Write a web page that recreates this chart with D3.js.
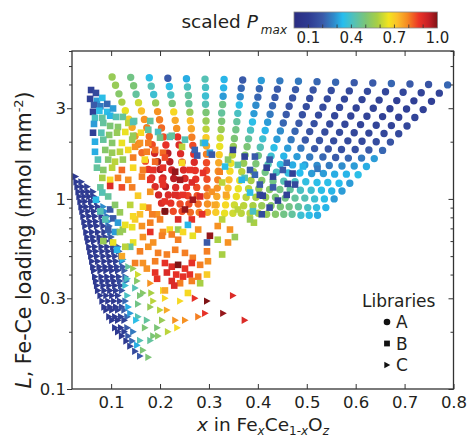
<!DOCTYPE html>
<html>
<head>
<meta charset="utf-8">
<script src="https://cdn.jsdelivr.net/npm/d3@7"></script>
<style>
  html, body { margin: 0; padding: 0; background: #fff; }
  svg { display: block; font-family: "DejaVu Sans", Verdana, sans-serif; }
</style>
</head>
<body>
<svg id="chart" width="470" height="439"></svg>
<script>
// colour map for scaled Pmax
const cmapStops = [0, .1, .2, .28, .34, .42, .5, .58, .66, .72, .79, .87, .94, 1];
const cmapColors = ["#2b2d82","#2e3a91","#3a5aa9","#2f8ccc","#26bdee","#55c1b4","#7cc576",
                    "#a8cf44","#f3e41f","#fbbf2b","#f58a22","#ec3427","#c41f26","#7e1315"];

// axis ticks
const xTicks = [0.1, 0.2, 0.3, 0.4, 0.5, 0.6, 0.7, 0.8];
const yLabelTicks = [0.1, 0.3, 1, 3];
const yMinorTicks = [0.2, 0.4, 0.5, 0.6, 0.7, 0.8, 0.9, 2, 4, 5, 6];
const cbarLabels = [0.1, 0.4, 0.7, 1.0];
const cbarMinor = [0.1, 0.2, 0.3, 0.4, 0.5, 0.6, 0.7, 0.8, 0.9];
const libraries = ["A", "B", "C"];

// Library A (circles): one line per row of the grid
const aX = [
  [.102,.140,.178,.216,.254,.292,.331,.369,.407,.445,.483,.521,.559,.597,.635,.673,.711,.749,.788],
  [.109,.146,.182,.219,.256,.293,.330,.366,.403,.440,.477,.513,.550,.587,.624,.661,.697,.734,.771],
  [.116,.151,.187,.222,.258,.293,.329,.364,.400,.435,.471,.506,.542,.577,.613,.648,.684,.719,.755],
  [.122,.156,.191,.225,.259,.293,.328,.362,.396,.430,.464,.499,.533,.567,.601,.636,.670,.704,.738],
  [.129,.162,.195,.228,.261,.294,.326,.359,.392,.425,.458,.491,.524,.557,.590,.623,.655,.688,.721],
  [.136,.168,.199,.231,.262,.294,.326,.357,.389,.420,.452,.484,.515,.547,.578,.610,.642,.673,.705],
  [.143,.173,.203,.234,.264,.294,.325,.355,.385,.415,.446,.476,.506,.537,.567,.597,.627,.658,.688],
  [.149,.178,.207,.236,.265,.294,.323,.352,.381,.410,.439,.468,.497,.526,.555,.584,.613,.642,.671],
  [.156,.184,.212,.239,.267,.295,.322,.350,.378,.405,.433,.461,.488,.516,.544,.571,.599,.627,.655],
  [.163,.189,.216,.242,.269,.295,.321,.348,.374,.401,.427,.453,.480,.506,.533,.559,.585,.612,.638],
  [.170,.195,.220,.245,.270,.295,.320,.345,.371,.396,.421,.446,.471,.496,.521,.546,.572,.597,.622],
  [.176,.200,.224,.248,.272,.295,.319,.343,.367,.391,.415,.438,.462,.486,.510,.534,.557,.581,.605],
  [.183,.206,.228,.251,.273,.296,.318,.341,.363,.386,.408,.431,.453,.476,.498,.521,.543,.566,.588],
  [.190,.211,.232,.254,.275,.296,.317,.339,.360,.381,.402,.424,.445,.466,.487,.509,.530,.551,.572],
  [.197,.217,.237,.257,.276,.296,.316,.336,.356,.376,.396,.416,.436,.456,.476,.496,.516,.536,.556],
  [.203,.222,.241,.259,.278,.297,.315,.334,.352,.371,.390,.408,.427,.446,.464,.483,.502,.520,.539],
  [.210,.227,.245,.262,.280,.297,.314,.332,.349,.366,.384,.401,.418,.436,.453,.470,.488,.505,.522]
];
const aL = [
  [4.38,4.36,4.34,4.31,4.29,4.27,4.25,4.22,4.20,4.18,4.16,4.14,4.11,4.09,4.07,4.05,4.02,4.00,3.98],
  [3.96,3.94,3.92,3.90,3.88,3.86,3.84,3.82,3.80,3.78,3.76,3.74,3.72,3.70,3.68,3.66,3.64,3.62,3.60],
  [3.57,3.55,3.54,3.52,3.50,3.48,3.47,3.45,3.43,3.42,3.40,3.38,3.36,3.35,3.33,3.31,3.29,3.28,3.26],
  [3.23,3.21,3.20,3.18,3.17,3.15,3.14,3.12,3.11,3.09,3.07,3.06,3.04,3.03,3.01,3.00,2.98,2.97,2.95],
  [2.91,2.90,2.88,2.87,2.86,2.85,2.83,2.82,2.81,2.79,2.78,2.77,2.76,2.74,2.73,2.72,2.71,2.69,2.68],
  [2.63,2.62,2.61,2.59,2.58,2.57,2.56,2.55,2.54,2.53,2.51,2.50,2.49,2.48,2.47,2.46,2.44,2.43,2.42],
  [2.38,2.37,2.36,2.35,2.34,2.33,2.32,2.31,2.30,2.29,2.28,2.27,2.26,2.25,2.24,2.23,2.22,2.21,2.20],
  [2.14,2.13,2.12,2.12,2.11,2.10,2.09,2.08,2.07,2.07,2.06,2.05,2.04,2.03,2.02,2.02,2.01,2.00,1.99],
  [1.94,1.93,1.92,1.92,1.91,1.90,1.89,1.89,1.88,1.87,1.86,1.85,1.85,1.84,1.83,1.82,1.82,1.81,1.80],
  [1.75,1.74,1.74,1.73,1.72,1.72,1.71,1.70,1.70,1.69,1.68,1.68,1.67,1.66,1.66,1.65,1.64,1.64,1.63],
  [1.58,1.57,1.57,1.56,1.56,1.55,1.55,1.54,1.54,1.53,1.52,1.52,1.51,1.51,1.50,1.50,1.49,1.49,1.48],
  [1.43,1.43,1.42,1.42,1.41,1.41,1.40,1.40,1.39,1.39,1.38,1.38,1.37,1.37,1.36,1.36,1.35,1.35,1.34],
  [1.29,1.29,1.28,1.28,1.27,1.27,1.26,1.26,1.25,1.25,1.25,1.24,1.24,1.23,1.23,1.22,1.22,1.21,1.21],
  [1.16,1.16,1.15,1.15,1.15,1.14,1.14,1.14,1.13,1.13,1.13,1.12,1.12,1.12,1.11,1.11,1.11,1.10,1.10],
  [1.05,1.05,1.04,1.04,1.04,1.04,1.03,1.03,1.03,1.02,1.02,1.02,1.02,1.01,1.01,1.01,1.00,1.00,1.00],
  [.95,.95,.94,.94,.94,.94,.93,.93,.93,.92,.92,.92,.92,.91,.91,.91,.90,.90,.90],
  [.86,.86,.86,.85,.85,.85,.85,.84,.84,.84,.84,.84,.83,.83,.83,.83,.82,.82,.82]
];
const aP = [
  [.55,.48,.35,.2,.32,.42,.33,.2,.3,.25,.25,.22,.22,.2,.2,.22,.2,.18,.22],
  [.55,.5,.42,.35,.4,.4,.33,.22,.22,.2,.2,.18,.16,.15,.15,.14,.14,.13,.13],
  [.52,.45,.38,.4,.45,.38,.3,.28,.22,.2,.18,.16,.15,.14,.13,.13,.12,.12,.12],
  [.58,.62,.55,.5,.45,.42,.48,.35,.28,.22,.18,.16,.15,.14,.13,.13,.12,.12,.12],
  [.65,.72,.78,.68,.55,.5,.45,.4,.3,.25,.2,.17,.15,.14,.13,.13,.12,.12,.13],
  [.7,.78,.8,.75,.72,.55,.5,.45,.35,.3,.22,.2,.17,.15,.14,.13,.13,.13,.14],
  [.75,.8,.82,.78,.75,.6,.55,.48,.4,.33,.28,.22,.18,.16,.15,.14,.14,.14,.15],
  [.78,.82,.85,.88,.8,.7,.62,.5,.45,.38,.3,.25,.2,.18,.16,.15,.15,.16,.18],
  [.8,.85,.88,.9,.85,.75,.65,.55,.5,.42,.35,.3,.25,.2,.18,.17,.17,.2,.22],
  [.82,.92,.95,.9,.88,.8,.7,.6,.52,.48,.38,.33,.3,.25,.22,.2,.22,.25,.3],
  [.85,.98,.95,.92,.9,.85,.75,.65,.55,.5,.42,.36,.32,.3,.28,.25,.28,.3,.32],
  [.88,.95,.92,.9,.88,.85,.78,.68,.6,.55,.48,.4,.36,.34,.3,.3,.32,.33,.35],
  [.9,.92,.95,.9,.88,.85,.8,.72,.65,.58,.52,.48,.42,.4,.36,.35,.35,.34,.3],
  [.9,.95,.9,.88,.85,.82,.78,.72,.65,.6,.55,.52,.48,.45,.4,.38,.35,.33,.3],
  [.92,.9,.88,.86,.84,.8,.75,.7,.65,.6,.58,.55,.5,.48,.45,.42,.38,.35,.3],
  [.9,.88,.85,.85,.82,.78,.72,.68,.62,.6,.58,.55,.52,.5,.48,.45,.4,.36,.33],
  [.88,.85,.85,.82,.8,.75,.7,.65,.62,.6,.6,.58,.55,.52,.48,.45,.38,.35,.32]
];

// Library B (squares): [x, L, scaled Pmax]
const libB = [
  [.059,3.74,.12],[.069,3.61,.15],[.057,3.36,.12],[.071,3.28,.3],[.082,3.40,.35],[.065,3.12,.2],[.078,3.07,.25],[.092,3.16,.22],
  [.063,2.87,.12],[.076,2.91,.35],[.092,2.87,.35],[.104,2.99,.3],[.067,2.67,.4],[.082,2.67,.45],[.098,2.74,.33],[.110,2.70,.42],[.124,2.70,.45],
  [.065,2.48,.3],[.084,2.51,.45],[.098,2.42,.5],[.114,2.39,.52],[.135,2.51,.6],[.147,2.57,.45],[.180,2.57,.45],[.145,2.54,.42],
  [.063,2.23,.12],[.080,2.23,.42],[.096,2.17,.52],[.112,2.23,.55],[.129,2.25,.65],[.145,2.15,.55],[.161,2.23,.68],[.176,2.31,.45],[.196,2.25,.4],[.220,2.12,.42],
  [.067,2.00,.32],[.084,2.05,.45],[.102,1.97,.52],[.122,1.97,.65],[.143,2.05,.55],[.159,1.97,.78],[.176,1.97,.8],[.200,2.10,.48],[.224,2.15,.45],[.251,2.05,.42],[.288,1.97,.45],[.245,1.88,.6],[.292,1.97,.33],
  [.067,1.77,.32],[.088,1.81,.52],[.102,1.75,.55],[.118,1.77,.6],[.135,1.81,.68],[.149,1.88,.78],[.173,1.77,.8],[.190,1.81,.82],[.206,1.75,.82],[.271,1.81,.22],[.302,1.75,.3],[.276,1.69,.2],[.306,1.71,.2],[.349,1.81,.12],
  [.073,1.61,.42],[.094,1.61,.52],[.108,1.57,.6],[.124,1.61,.55],[.145,1.65,.8],[.169,1.61,.68],[.190,1.57,.82],[.210,1.65,.85],[.339,1.61,.52],[.373,1.67,.13],[.394,1.67,.2],[.424,1.61,.2],[.459,1.55,.22],
  [.071,1.46,.45],[.084,1.42,.52],[.102,1.46,.6],[.122,1.42,.82],[.145,1.46,.68],[.165,1.42,.8],[.186,1.42,.88],[.206,1.46,.88],[.231,1.39,.98],[.245,1.55,.68],[.261,1.42,.88],[.288,1.37,.88],[.322,1.39,.8],[.359,1.51,.45],[.333,1.48,.35],[.418,1.46,.12],[.451,1.42,.2],[.471,1.36,.12],[.492,1.48,.33],[.522,1.44,.25],[.384,1.42,.2],
  [.082,1.29,.58],[.098,1.26,.68],[.114,1.29,.8],[.135,1.26,.78],[.163,1.31,.8],[.180,1.26,.88],[.204,1.26,.88],[.241,1.26,.97],[.265,1.22,.9],[.327,1.22,.6],[.373,1.29,.42],[.394,1.34,.22],[.431,1.31,.12],[.367,1.26,.33],
  [.078,1.15,.45],[.098,1.17,.9],[.122,1.15,.85],[.143,1.15,.8],[.206,1.19,.88],[.404,1.19,.2],[.461,1.20,.12],[.476,1.19,.15],[.431,1.15,.2],
  [.082,1.08,.42],[.094,1.03,.45],[.155,1.04,.7],[.180,1.09,.78],[.231,1.05,.9],[.247,1.05,.88],[.267,.99,.97],[.282,1.03,.9],[.306,1.09,.78],[.335,1.05,.75],[.384,1.08,.35],[.404,1.05,.15],[.410,1.04,.12],[.459,1.05,.12],[.441,.98,.12],[.069,.99,.35],
  [.078,.86,.42],[.088,.78,.42],[.098,.88,.2],[.104,.79,.2],[.114,.75,.3],[.108,.93,.52],[.118,.85,.55],[.194,.83,.78],[.210,.97,.88],[.237,.78,.9],[.251,.88,.98],[.265,.78,.88],[.286,.83,.88],[.312,.93,.75],[.327,.78,.6],[.359,.88,.6],[.424,.90,.15],[.408,.83,.15],[.390,.86,.4],[.392,.75,.58],[.159,.83,.72],[.176,.90,.8],[.139,.93,.6],[.149,.78,.7],[.210,.86,1.0],[.165,.91,.68],[.184,.83,.8],[.145,.81,.68],
  [.108,.67,.3],[.124,.69,.55],[.084,.60,.55],[.094,.69,.2],[.129,.73,.65],[.118,.67,.55],[.257,.73,.33],[.278,.69,.78],[.206,.67,.78],[.220,.69,.68],[.237,.69,.55],[.318,.72,.78],[.343,.69,.78],[.384,.78,.55],[.163,.72,.78],[.180,.75,.8],[.200,.78,.8],[.143,.71,.65],
  [.145,.59,.65],[.165,.63,.78],[.180,.67,.88],[.186,.59,.78],[.204,.64,.8],[.224,.65,.8],[.237,.61,.8],[.247,.67,.68],[.267,.64,.65],[.302,.64,.98],[.296,.59,.2],[.318,.61,.58],[.339,.59,.78],[.353,.63,.55],[.104,.59,.65],
  [.139,.56,.45],[.159,.53,.8],[.176,.56,.78],[.196,.52,.8],[.214,.51,.8],[.231,.54,.8],[.251,.52,.8],[.267,.49,.8],[.296,.53,.8],[.327,.51,.58],[.112,.54,.33],[.129,.56,.6],[.122,.50,.75],
  [.149,.46,.8],[.165,.46,.78],[.190,.47,.8],[.210,.46,.88],[.224,.44,.9],[.237,.45,1.0],[.251,.43,.88],[.265,.46,.88],[.282,.45,.8],[.298,.47,.78],
  [.173,.43,.78],[.190,.41,.88],[.214,.41,.9],[.233,.40,.88],[.247,.39,.88],[.261,.40,.88],[.278,.39,.8],[.296,.40,.7],
  [.194,.38,.88],[.224,.37,.9],[.241,.36,.8],[.265,.37,.8],[.282,.36,.58],[.257,.32,.68],[.229,.35,.9],[.210,.33,.75]
];

// Library C (triangles): [x, L, scaled Pmax]
const libC = [
  [.027,1.31,.1],
  [.029,1.23,.1],[.039,1.23,.12],
  [.031,1.16,.1],[.041,1.16,.1],[.051,1.16,.12],
  [.033,1.09,.1],[.043,1.09,.1],[.053,1.09,.1],[.063,1.09,.13],
  [.035,1.03,.1],[.045,1.03,.1],[.055,1.03,.1],[.065,1.03,.12],
  [.037,.97,.1],[.047,.97,.1],[.059,.97,.1],[.071,.97,.15],
  [.039,.91,.1],[.049,.91,.1],[.061,.91,.1],[.073,.91,.12],[.084,.91,.28],
  [.041,.86,.1],[.053,.86,.1],[.065,.86,.1],[.078,.86,.15],[.088,.86,.28],
  [.043,.81,.1],[.055,.81,.1],[.067,.81,.1],[.080,.81,.12],[.092,.81,.25],
  [.045,.76,.1],[.057,.76,.1],[.069,.76,.1],[.082,.76,.15],[.094,.76,.3],
  [.047,.72,.1],[.059,.72,.1],[.071,.72,.1],[.084,.72,.12],[.096,.72,.22],
  [.049,.67,.1],[.061,.67,.1],[.073,.67,.1],[.086,.67,.12],[.098,.67,.25],
  [.051,.63,.1],[.063,.63,.1],[.076,.63,.1],[.088,.63,.12],[.100,.63,.2],
  [.053,.60,.1],[.065,.60,.1],[.078,.60,.1],[.090,.60,.1],[.102,.60,.15],
  [.055,.56,.1],[.067,.56,.1],[.080,.56,.1],[.092,.56,.1],[.104,.56,.12],[.114,.56,.2],
  [.057,.53,.1],[.069,.53,.1],[.082,.53,.1],[.094,.53,.1],[.106,.53,.12],[.116,.53,.2],
  [.059,.50,.1],[.071,.50,.1],[.084,.50,.1],[.096,.50,.1],[.108,.50,.12],[.120,.50,.22],
  [.061,.47,.1],[.073,.47,.1],[.086,.47,.1],[.098,.47,.1],[.110,.47,.12],[.122,.47,.25],
  [.063,.44,.1],[.076,.44,.1],[.088,.44,.1],[.100,.44,.1],[.112,.44,.12],[.124,.44,.2],
  [.065,.42,.1],[.078,.42,.1],[.090,.42,.1],[.102,.42,.1],[.114,.42,.12],[.127,.42,.2],
  [.067,.39,.1],[.080,.39,.1],[.092,.39,.1],[.104,.39,.1],[.116,.39,.12],[.129,.39,.22],
  [.069,.37,.1],[.082,.37,.1],[.094,.37,.1],[.106,.37,.1],[.118,.37,.15],[.131,.37,.25],
  [.071,.35,.1],[.084,.35,.1],[.096,.35,.1],[.108,.35,.1],[.120,.35,.15],
  [.073,.33,.1],[.086,.33,.1],[.098,.33,.1],[.110,.33,.12],[.122,.33,.18],
  [.078,.31,.1],[.090,.31,.1],[.102,.31,.1],[.114,.31,.12],
  [.082,.29,.1],[.094,.29,.1],[.106,.29,.1],[.118,.29,.12],[.129,.29,.22],
  [.086,.27,.1],[.098,.27,.1],[.110,.27,.1],[.122,.27,.15],
  [.090,.26,.1],[.102,.26,.1],[.114,.26,.12],[.127,.26,.2],
  [.096,.24,.1],[.108,.24,.1],[.120,.24,.12],[.133,.24,.22],
  [.102,.23,.1],[.114,.23,.1],[.127,.23,.12],
  [.108,.21,.1],[.120,.21,.1],[.133,.21,.2],
  [.114,.20,.1],[.127,.20,.12],
  [.122,.19,.1],[.135,.19,.2],
  [.131,.179,.1],[.143,.179,.22],
  [.139,.168,.12],[.149,.158,.15],[.159,.149,.2],
  [.124,.48,.33],[.135,.44,.45],[.145,.43,.55],[.155,.40,.62],[.180,.36,.78],[.206,.33,.68],[.133,.38,.4],[.153,.37,.52],
  [.129,.35,.38],[.149,.34,.42],[.165,.32,.52],[.186,.29,.6],[.210,.30,.68],[.241,.29,.68],[.271,.30,.88],[.296,.29,1.0],[.349,.31,.9],
  [.133,.31,.4],[.159,.31,.5],[.182,.32,.58],[.135,.27,.32],[.155,.28,.48],[.180,.27,.55],[.200,.26,.6],[.214,.26,.75],
  [.231,.23,.78],[.251,.23,.78],[.278,.24,.8],[.292,.25,.88],[.329,.25,.98],[.373,.23,.9],[.139,.25,.3],[.155,.24,.42],
  [.173,.23,.45],[.194,.21,.5],[.216,.20,.6],[.235,.21,.68],[.151,.23,.35],[.169,.21,.5],[.186,.19,.5],[.145,.20,.25],
  [.159,.18,.42],[.153,.17,.32],[.165,.16,.5],[.176,.147,.5],[.180,.18,.45],[.196,.19,.52],[.204,.23,.55]
];

const svg = d3.select("#chart");
const ink = "#231f20";

const x = d3.scaleLinear().domain([0.02, 0.8]).range([72, 453.5]);
const y = d3.scaleLog().domain([0.1, 6]).range([389, 51]);
const color = d3.scaleLinear().domain(cmapStops).range(cmapColors).clamp(true);

const ptsA = aX.flatMap((row, r) => row.map((v, c) => ({x: v, L: aL[r][c], p: aP[r][c]})));
const toPts = arr => arr.map(([xv, L, p]) => ({x: xv, L: L, p: p}));

// marker shapes
const triPath = "M-3,-3.7L3.7,0L-3,3.7Z";
const sqPath = "M-3.3,-3.3H3.3V3.3H-3.3Z";
const circPath = d3.symbol(d3.symbolCircle, Math.PI * 3.7 * 3.7)();

function drawMarks(data, shape) {
  svg.append("g")
    .selectAll("path")
    .data(data)
    .join("path")
    .attr("d", shape)
    .attr("transform", d => `translate(${x(d.x)},${y(d.L)})`)
    .attr("fill", d => color(d.p));
}
drawMarks(toPts(libC), triPath);
drawMarks(ptsA, circPath);
drawMarks(toPts(libB), sqPath);

// axes
function styleAxis(g) {
  g.attr("font-family", null).attr("font-size", null);
  g.select(".domain").remove();
  g.selectAll("line").attr("stroke", "#333");
  g.selectAll("text").attr("fill", ink).attr("font-size", 16.5);
}
svg.append("g").attr("transform", "translate(0,389)")
  .call(d3.axisBottom(x).tickValues(xTicks).tickSize(-5).tickPadding(7).tickFormat(d3.format(".1f")))
  .call(styleAxis);
svg.append("g").attr("transform", "translate(0,51)")
  .call(d3.axisTop(x).tickValues(xTicks).tickSize(-5).tickFormat(""))
  .call(styleAxis);
svg.append("g").attr("transform", "translate(72,0)")
  .call(d3.axisLeft(y).tickValues(yLabelTicks).tickSize(5).tickPadding(1).tickFormat(d => d))
  .call(styleAxis);
svg.append("g").attr("transform", "translate(72,0)")
  .call(d3.axisLeft(y).tickValues(yMinorTicks).tickSize(3).tickFormat(""))
  .call(styleAxis);
svg.append("g").attr("transform", "translate(453.5,0)")
  .call(d3.axisRight(y).tickValues(yLabelTicks).tickSize(-5).tickFormat(""))
  .call(styleAxis);
svg.append("g").attr("transform", "translate(453.5,0)")
  .call(d3.axisRight(y).tickValues(yMinorTicks).tickSize(-3).tickFormat(""))
  .call(styleAxis);

// frame
svg.append("rect")
  .attr("x", 72).attr("y", 51).attr("width", 381.5).attr("height", 338)
  .attr("fill", "none").attr("stroke", "#333").attr("stroke-width", 1.3);

// axis titles
const xl = svg.append("text").attr("x", 263).attr("y", 431)
  .attr("text-anchor", "middle").attr("font-size", 18.5).attr("fill", ink);
xl.append("tspan").attr("font-style", "italic").text("x");
xl.append("tspan").text(" in Fe");
xl.append("tspan").attr("font-size", 12).attr("dy", 4).attr("font-style", "italic").text("x");
xl.append("tspan").attr("dy", -4).text("Ce");
xl.append("tspan").attr("font-size", 12).attr("dy", 4).text("1-");
xl.append("tspan").attr("font-size", 12).attr("font-style", "italic").text("x");
xl.append("tspan").attr("dy", -4).text("O");
xl.append("tspan").attr("font-size", 12).attr("dy", 4).attr("font-style", "italic").text("z");

const yl = svg.append("text").attr("transform", "translate(31,240) rotate(-90)")
  .attr("text-anchor", "middle").attr("font-size", 20.5).attr("fill", ink);
yl.append("tspan").attr("font-style", "italic").text("L");
yl.append("tspan").text(", Fe-Ce loading (nmol mm");
yl.append("tspan").attr("font-size", 13).attr("dy", -8).text("-2");
yl.append("tspan").attr("dy", 8).text(")");

// colour bar
const cbx = d3.scaleLinear().domain([0, 1]).range([294, 437.5]);
const grad = svg.append("defs").append("linearGradient").attr("id", "cmap");
grad.selectAll("stop").data(cmapStops).join("stop")
  .attr("offset", d => d)
  .attr("stop-color", (d, i) => cmapColors[i]);
svg.append("rect")
  .attr("x", cbx(0)).attr("y", 12).attr("width", cbx(1) - cbx(0)).attr("height", 16)
  .attr("fill", "url(#cmap)").attr("stroke", "#888").attr("stroke-width", 0.8);
svg.append("g").selectAll("line").data(cbarMinor).join("line")
  .attr("x1", d => cbx(d)).attr("x2", d => cbx(d))
  .attr("y1", 28).attr("y2", 24.5)
  .attr("stroke", "#333").attr("stroke-width", 0.8);
svg.append("g").selectAll("text").data(cbarLabels).join("text")
  .attr("x", d => cbx(d)).attr("y", 43)
  .attr("text-anchor", "middle").attr("font-size", 15).attr("fill", ink)
  .text(d3.format(".1f"));

const title = svg.append("text").attr("x", 287).attr("y", 28)
  .attr("text-anchor", "end").attr("font-size", 18.5).attr("fill", ink);
title.append("tspan").text("scaled ");
title.append("tspan").attr("font-style", "italic").text("P");
title.append("tspan").attr("font-style", "italic").attr("font-size", 12)
  .attr("dx", 3).attr("dy", 6).text("max");

// legend
svg.append("text").attr("x", 362).attr("y", 307)
  .attr("font-size", 17).attr("fill", ink).text("Libraries");
const legendShapes = [
  d3.symbol(d3.symbolCircle, Math.PI * 3.3 * 3.3)(),
  "M-2.9,-2.9H2.9V2.9H-2.9Z",
  "M-2.7,-3.3L3.3,0L-2.7,3.3Z"
];
const leg = svg.append("g").selectAll("g").data(libraries).join("g")
  .attr("transform", (d, i) => `translate(387,${322 + i * 21.5})`);
leg.append("path").attr("d", (d, i) => legendShapes[i]).attr("fill", "#111");
leg.append("text").attr("x", 9).attr("y", 6)
  .attr("font-size", 17).attr("fill", ink).text(d => d);
</script>
</body>
</html>
